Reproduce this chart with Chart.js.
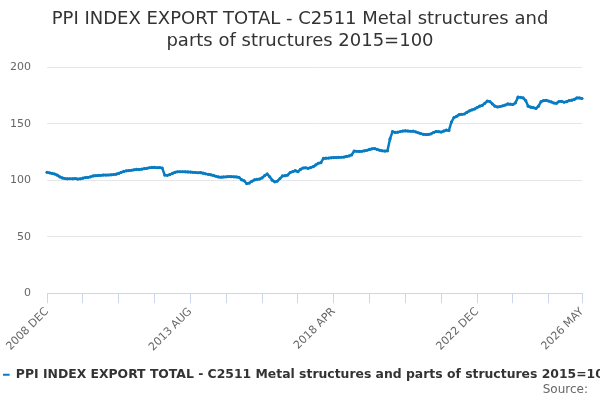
<!DOCTYPE html>
<html>
<head>
<meta charset="utf-8">
<script src="https://cdn.jsdelivr.net/npm/chart.js@4/dist/chart.umd.min.js"></script>
<style>
    html, body { margin: 0; padding: 0; background: #ffffff; }
    #wrap { width: 600px; height: 400px; }
</style>
</head>
<body>
<div id="wrap"><canvas id="chart" width="600" height="400"></canvas></div>
<script>
// monthly index values, 2008 DEC .. 2026 MAY (2015=100)
const ppiValues = [
    107, 106.5, 106, 105.5, 104.5, 103, 102, 101.5, 101.2, 101.3, 101.2, 101.5,
    101, 101.2, 101.8, 102.3, 102.5, 103, 103.8, 104, 104.2, 104.3, 104.5, 104.5,
    104.6, 104.8, 105, 105.3, 106, 107, 107.8, 108.3, 108.5, 108.8, 109.2, 109.5,
    109.4, 109.8, 110.2, 110.5, 111, 111.3, 111.3, 111, 111.2, 110.8, 104.5, 104.3,
    105, 106, 107, 107.5, 107.5, 107.5, 107.4, 107.3, 107.2, 107, 106.8, 106.6,
    106.7, 106.2, 105.6, 105.2, 104.8, 104.2, 103.5, 102.9, 102.7, 102.9, 103, 103.2,
    103.1, 103, 102.9, 102.5, 100.5, 99.5, 97, 97.5, 99, 100.2, 100.8, 101,
    102, 104, 105.5, 103, 100, 98.6, 99.2, 101.5, 103.8, 104, 104.5, 106.8,
    107.6, 108.4, 107.5, 109.5, 110.8, 111, 110.5, 111.2, 112, 113.5, 115, 115.5,
    119.3, 119.5, 119.6, 119.8, 120, 120, 120.2, 120.3, 120.5, 121, 121.5, 122.4,
    125.8, 125.6, 125.5, 125.6, 126, 126.5, 127.2, 127.8, 128, 127.2, 126.5, 126,
    125.8, 126, 136.5, 143, 142.3, 142.5, 143, 143.5, 143.7, 143.5, 143.3, 143.4,
    142.8, 142, 141.3, 140.6, 140.4, 140.5, 141, 142.2, 143, 142.9, 142.6, 143.5,
    144.3, 144, 151.5, 155.5, 156.5, 158, 158.3, 158.6, 160, 161.3, 162.2, 163,
    164.3, 165.5, 166.2, 168, 170, 169.6, 167.5, 165.5, 164.8, 165.2, 165.8, 166.5,
    167.5, 167.3, 167, 168.5, 173.5, 173.3, 172.8, 170.5, 165.5, 164.6, 164.2, 163.5,
    165.5, 169.5, 170.5, 170.7, 170, 169.3, 168.3, 168, 169.6, 169.8, 169, 169.5,
    170.5, 170.8, 171.5, 172.8, 172.8, 172.3
];

const monthNames = ['JAN', 'FEB', 'MAR', 'APR', 'MAY', 'JUN', 'JUL', 'AUG', 'SEP', 'OCT', 'NOV', 'DEC'];
const labelledTicks = ['2008 DEC', '2013 AUG', '2018 APR', '2022 DEC', '2026 MAY'];
const yTicks = [0, 50, 100, 150, 200];

const seriesName = 'PPI INDEX EXPORT TOTAL - C2511 Metal structures and parts of structures 2015=100';
const titleLines = ['PPI INDEX EXPORT TOTAL - C2511 Metal structures and', 'parts of structures 2015=100'];

const startYear = 2008;
const startMonth = 11; // DEC
const monthLabels = ppiValues.map((v, i) => {
    const m = startMonth + i;
    return (startYear + Math.floor(m / 12)) + ' ' + monthNames[m % 12];
});

const lineColor = '#087cc2';
const fontFamily = '"DejaVu Sans", "Liberation Sans", sans-serif';

const sourceNote = {
    id: 'sourceNote',
    afterLayout(chart) {
        // the legend item is wider than the canvas; nudge it like the original
        if (chart.legend) {
            chart.legend.left += 3;
            chart.legend.right += 3;
        }
    },
    afterDraw(chart) {
        const ctx = chart.ctx;
        ctx.save();
        ctx.font = '12px ' + fontFamily;
        ctx.fillStyle = '#666666';
        ctx.textAlign = 'right';
        ctx.textBaseline = 'middle';
        ctx.fillText('Source:', 588, 390);
        ctx.restore();
    }
};

new Chart(document.getElementById('chart').getContext('2d'), {
    type: 'line',
    data: {
        labels: monthLabels,
        datasets: [{
            label: seriesName,
            data: ppiValues,
            borderColor: lineColor,
            backgroundColor: lineColor,
            borderWidth: 2.5,
            pointRadius: 1.6,
            pointBorderWidth: 0,
            pointBackgroundColor: lineColor,
            tension: 0,
            fill: false
        }]
    },
    options: {
        responsive: false,
        animation: false,
        devicePixelRatio: 1,
        layout: { padding: { left: 0, right: 0, top: 0, bottom: 9 } },
        plugins: {
            title: {
                display: true,
                text: titleLines,
                color: '#333333',
                font: { family: fontFamily, size: 18, weight: 'normal', lineHeight: 1.2 },
                padding: { top: 9, bottom: 15 }
            },
            legend: {
                position: 'bottom',
                labels: {
                    color: '#333333',
                    font: { family: fontFamily, size: 12.4, weight: 'bold', lineHeight: 1.25 },
                    usePointStyle: true,
                    pointStyleWidth: 16,
                    padding: 10,
                    generateLabels(chart) {
                        const items = Chart.defaults.plugins.legend.labels.generateLabels(chart);
                        items.forEach(item => {
                            item.pointStyle = 'line';
                            item.lineWidth = 2;
                        });
                        return items;
                    }
                }
            },
            tooltip: { enabled: false }
        },
        scales: {
            x: {
                type: 'category',
                offset: false,
                grid: {
                    drawOnChartArea: false,
                    drawTicks: true,
                    tickLength: 10,
                    color: '#ccd6eb'
                },
                border: { display: true, color: '#ccd6eb' },
                ticks: {
                    autoSkip: false,
                    maxRotation: 45,
                    minRotation: 45,
                    padding: 2,
                    color: '#666666',
                    font: { family: fontFamily, size: 11 },
                    callback(value, index) {
                        const label = monthLabels[index];
                        if (labelledTicks.includes(label)) return label;
                        if (index % 14 === 0) return '';
                        return null;
                    }
                },
                afterFit(scale) { scale.height = 65.4; }
            },
            y: {
                min: 0,
                max: 200,
                grid: { color: '#e6e6e6', drawTicks: false },
                border: { display: false },
                afterBuildTicks(scale) { scale.ticks = yTicks.map(v => ({ value: v })); },
                ticks: {
                    padding: 16,
                    color: '#666666',
                    font: { family: fontFamily, size: 11 }
                },
                afterFit(scale) { scale.width = 47; }
            },
            // empty right-hand gutter so the plot ends where the reference does
            gutter: {
                type: 'linear',
                position: 'right',
                display: true,
                grid: { display: false },
                border: { display: false },
                ticks: { display: false },
                afterFit(scale) { scale.width = 18; }
            }
        }
    },
    plugins: [sourceNote]
});
</script>
</body>
</html>
